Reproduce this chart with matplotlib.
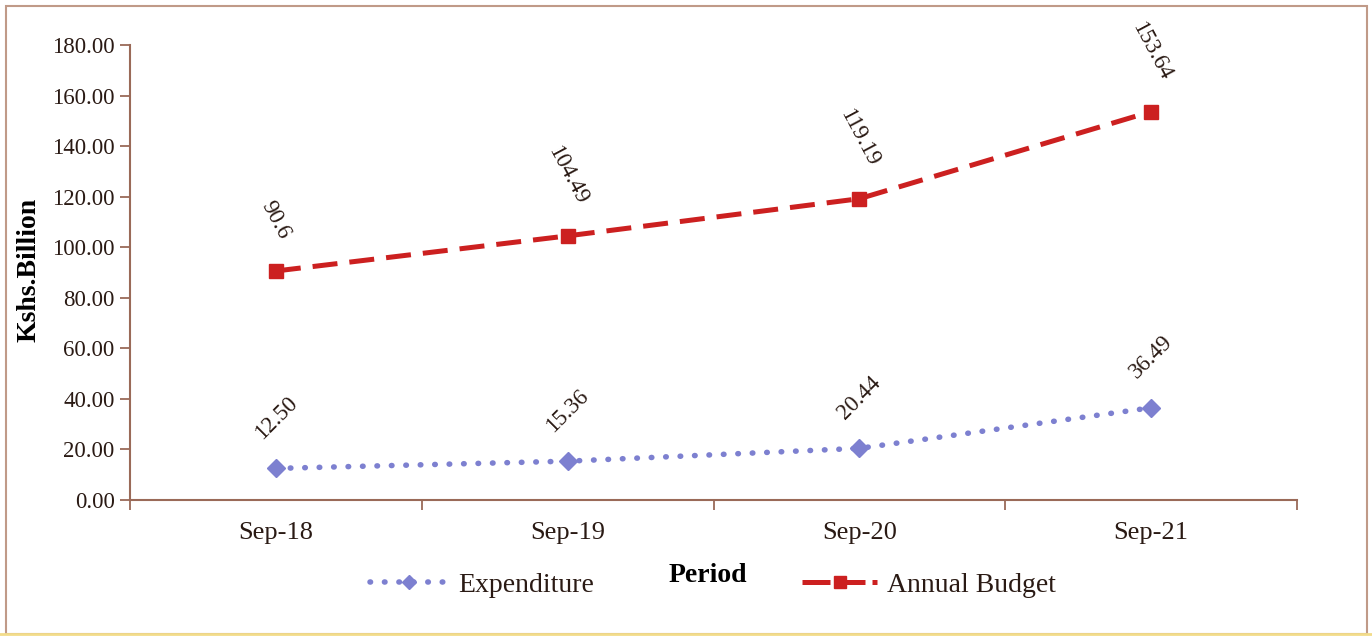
import matplotlib
matplotlib.use("Agg")
import matplotlib.pyplot as plt
from matplotlib.patches import Rectangle
from matplotlib.lines import Line2D
import numpy as np

periods = ["Sep-18", "Sep-19", "Sep-20", "Sep-21"]
expenditure = [12.50, 15.36, 20.44, 36.49]
budget = [90.6, 104.49, 119.19, 153.64]
expenditure_labels = ["12.50", "15.36", "20.44", "36.49"]
budget_labels = ["90.6", "104.49", "119.19", "153.64"]
y_ticks = [0, 20, 40, 60, 80, 100, 120, 140, 160, 180]

plt.rcParams['font.family'] = ['Liberation Serif', 'DejaVu Serif']
axis_col = "#9a6a58"
txt_col = "#2a1a14"
blue = "#7d80d0"
red = "#cc2020"

fig = plt.figure(figsize=(13.72, 6.37), dpi=100)
ax = fig.add_axes([130 / 1372, 1 - 500 / 637, (1297 - 130) / 1372, (500 - 45) / 637])

x = np.arange(len(periods))
ax.plot(x, expenditure, color=blue, lw=4, ls=(0, (0.1, 2.5)), dash_capstyle="round",
        marker="D", ms=9, markeredgecolor=blue)
ax.plot(x, budget, color=red, lw=3.6, ls=(0, (5, 2.4)), marker="s", ms=10,
        markeredgecolor=red)

# data labels
for xi, v, s in zip(x, expenditure, expenditure_labels):
    ax.text(xi, v + 20, s, rotation=45, ha="center", va="center", fontsize=16.5,
            color=txt_col)
for xi, v, s in zip(x, budget, budget_labels):
    off = 20 if len(s) < 5 else 24
    ax.text(xi, v + off, s, rotation=-62, ha="center", va="center", fontsize=16.5,
            color=txt_col)

ax.set_xlim(-0.5, 3.5)
ax.set_ylim(0, 180)
ax.set_yticks(y_ticks)
ax.set_yticklabels([f"{t:.2f}" for t in y_ticks], fontsize=16.5, color=txt_col)
ax.set_xticks(x)
ax.set_xticklabels(periods, fontsize=19, color=txt_col)
ax.set_xticks(np.arange(-0.5, 4, 1), minor=True)
ax.tick_params(axis="x", which="major", length=0, pad=16)
ax.tick_params(axis="x", which="minor", length=7, color=axis_col, width=1.3, direction="out")
ax.tick_params(axis="y", length=7, color=axis_col, width=1.3, direction="out", pad=4)

for side in ["top", "right"]:
    ax.spines[side].set_visible(False)
for side in ["left", "bottom"]:
    ax.spines[side].set_color(axis_col)
    ax.spines[side].set_linewidth(1.5)

ax.set_ylabel("Kshs.Billion", fontsize=20, fontweight="bold", color="black")
ax.yaxis.set_label_coords(-0.076, 0.505)
fig.text(708 / 1372, 1 - 575 / 637, "Period", fontsize=20, fontweight="bold",
         ha="center", va="center", color="black")

# legend proxies so the handles look like the original
h_exp = Line2D([], [], color=blue, lw=4, ls=(0, (0.1, 2.5)), dash_capstyle="round",
               marker="D", ms=7.5, markeredgecolor=blue)
h_bud = Line2D([], [], color=red, lw=3.6, ls=(0, (5.6, 1.4)), marker="s", ms=8,
               markeredgecolor=red)
fig.legend(handles=[h_exp], labels=["Expenditure"], loc="center",
           bbox_to_anchor=(482 / 1372, 1 - 585 / 637), frameon=False, fontsize=20,
           handlelength=2.8, handletextpad=0.35, labelcolor=txt_col)
fig.legend(handles=[h_bud], labels=["Annual Budget"], loc="center",
           bbox_to_anchor=(929 / 1372, 1 - 585 / 637), frameon=False, fontsize=20,
           handlelength=2.7, handletextpad=0.35, labelcolor=txt_col)

fig.patches.append(Rectangle((6 / 1372, 3 / 637), 1361 / 1372, 628 / 637,
                             transform=fig.transFigure, fill=False,
                             edgecolor="#c09a88", lw=1.5))
fig.lines.append(Line2D([0, 1], [3 / 637, 3 / 637], transform=fig.transFigure,
                        color="#f2dc8a", lw=2))

fig.savefig("out.png", dpi=100, facecolor="white")
